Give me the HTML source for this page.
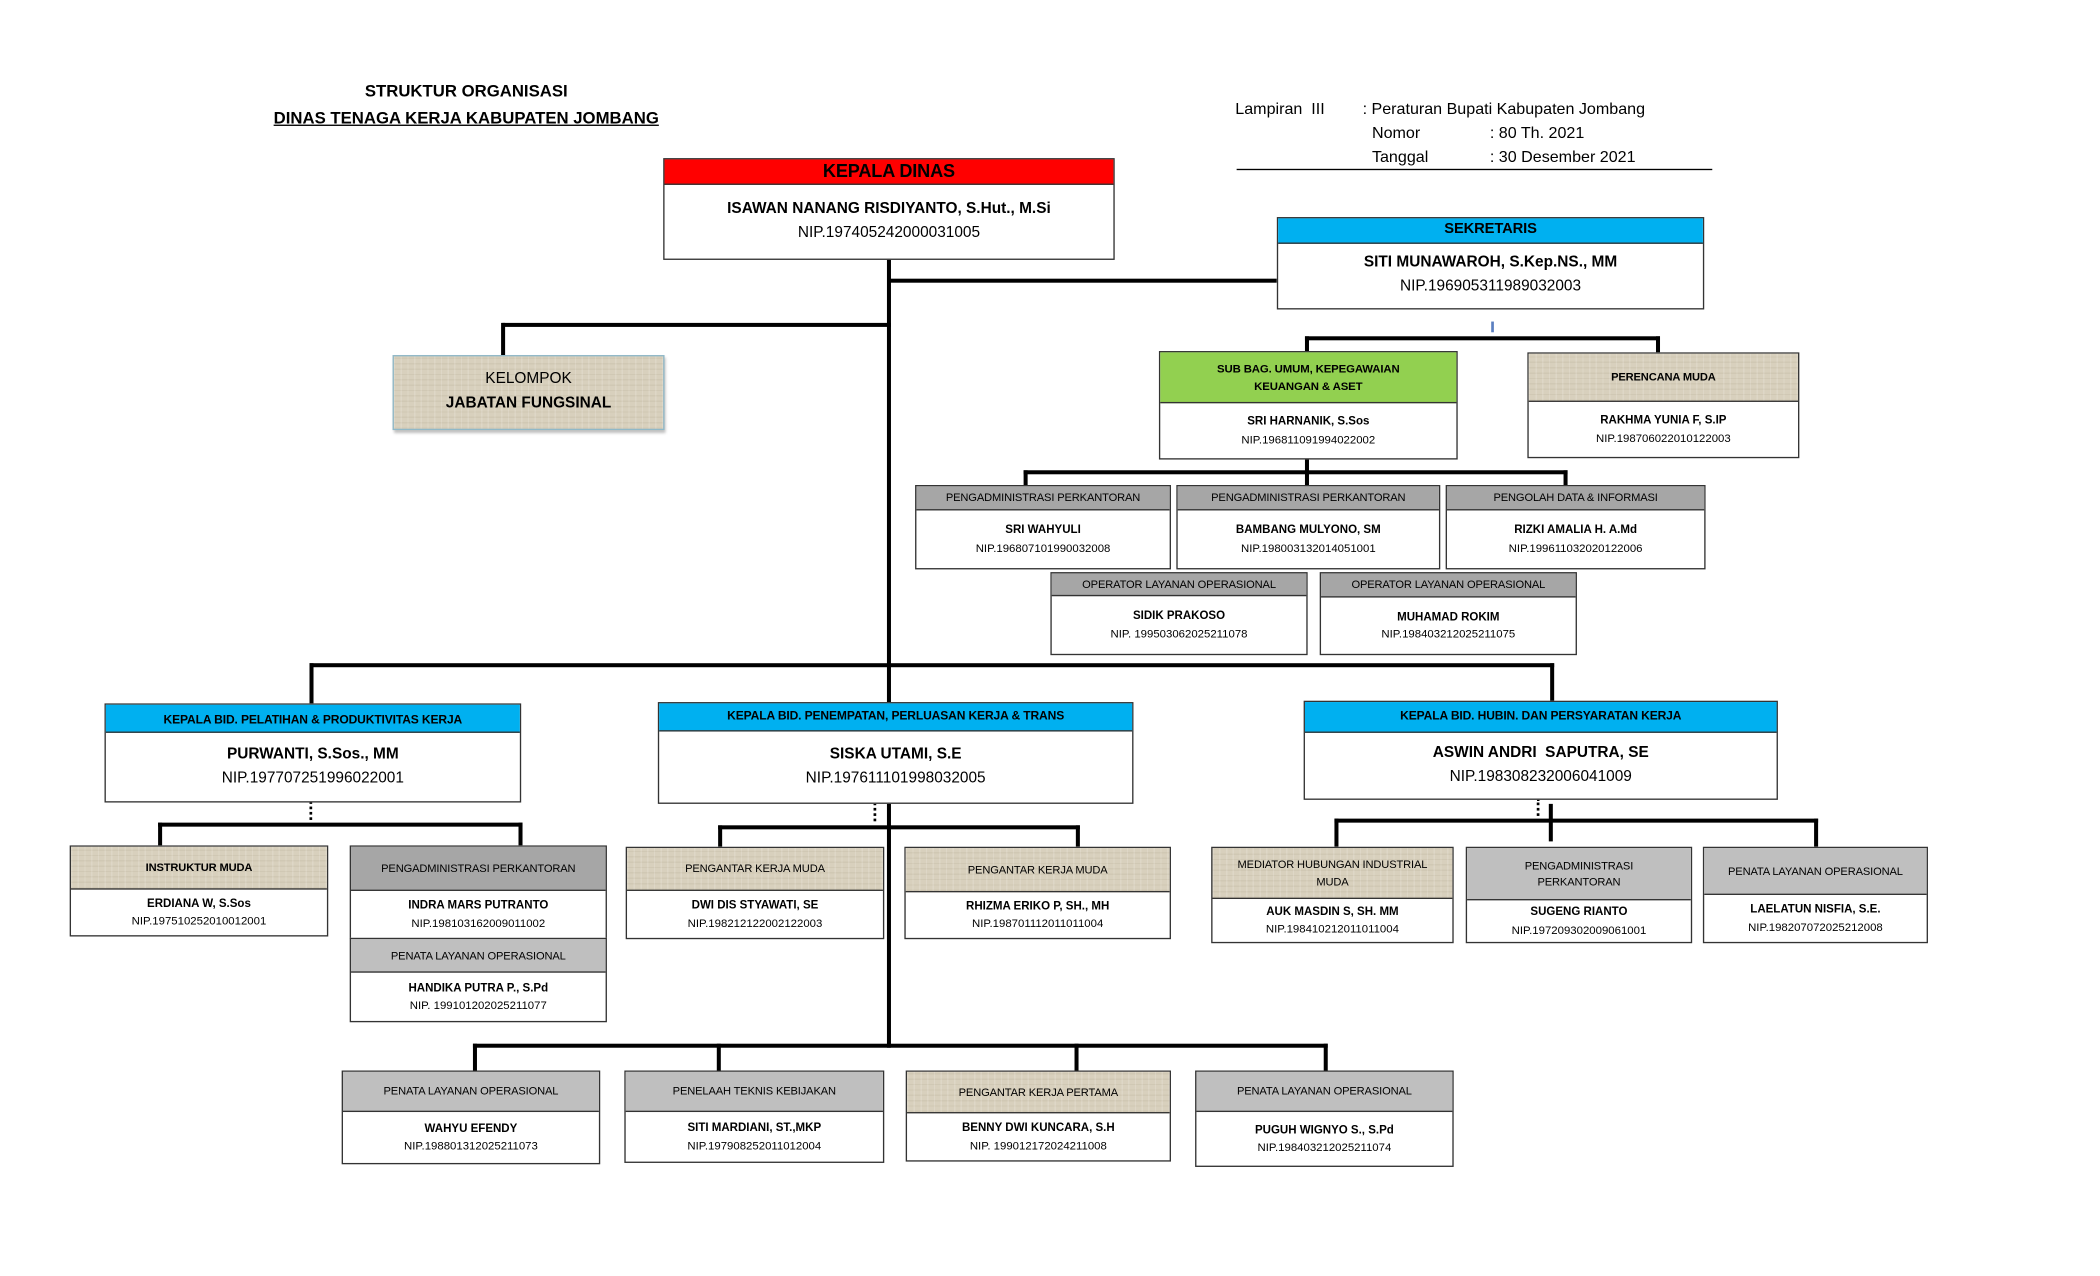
<!DOCTYPE html>
<html><head><meta charset="utf-8"><style>
html,body{margin:0;padding:0;background:#fff;}
body{width:2100px;height:1275px;overflow:hidden;position:relative;}
#s{position:absolute;left:0;top:0;width:1568px;height:952px;transform:scale(1.3398);transform-origin:0 0;font-family:"Liberation Sans",sans-serif;color:#000;}
.t{position:absolute;white-space:nowrap;}
.l{position:absolute;background:#000;}
.b{position:absolute;box-sizing:border-box;border:1px solid #333;background:#fff;display:flex;flex-direction:column;}
.h{box-sizing:border-box;border-bottom:1px solid #333;display:flex;align-items:center;justify-content:center;text-align:center;font-size:8.3px;line-height:1.45;letter-spacing:-0.1px;flex:none;}
.bd{flex:1;display:flex;flex-direction:column;align-items:center;justify-content:center;font-size:8.5px;line-height:1.55;}
.bd b{font-size:8.6px;}
.g{background:#a6a6a6;}
.g2{background:#bfbfbf;}
.be{background:#d8d0bd;background-image:repeating-linear-gradient(90deg,rgba(255,255,255,.15) 0 1px,transparent 1px 5px),repeating-linear-gradient(0deg,rgba(120,100,70,.08) 0 1px,transparent 1px 4px);}
.bl{background:#00b0f0;}
.big .bd{font-size:11.5px;line-height:1.55;}
.big .bd b{font-size:11.5px;}
.big .h{font-size:9px;}
</style></head><body><div id="s">

<div class="t" style="left:0;width:696px;top:61px;text-align:center;font-size:12.5px;font-weight:bold;">STRUKTUR ORGANISASI</div>
<div class="t" style="left:0;width:696px;top:81px;text-align:center;font-size:12.5px;font-weight:bold;text-decoration:underline;">DINAS TENAGA KERJA KABUPATEN JOMBANG</div>

<div class="t" style="left:922px;top:74px;font-size:12px;">Lampiran &nbsp;III</div>
<div class="t" style="left:1017px;top:74px;font-size:12px;">: Peraturan Bupati Kabupaten Jombang</div>
<div class="t" style="left:1024px;top:92px;font-size:12px;">Nomor</div>
<div class="t" style="left:1112px;top:92px;font-size:12px;">: 80 Th. 2021</div>
<div class="t" style="left:1024px;top:110px;font-size:12px;">Tanggal</div>
<div class="t" style="left:1112px;top:110px;font-size:12px;">: 30 Desember 2021</div>
<div class="l" style="left:923px;top:126px;width:355px;height:1px;"></div>

<!-- connectors -->
<div class="l" style="left:662px;top:193px;width:3px;height:589px;"></div>
<div class="l" style="left:663px;top:208px;width:290px;height:3px;"></div>
<div class="l" style="left:375px;top:241px;width:290px;height:3px;"></div>
<div class="l" style="left:374px;top:241px;width:3px;height:24px;"></div>
<div class="l" style="left:1113px;top:240px;width:2px;height:8px;background:#5b7fc0;"></div>
<div class="l" style="left:974px;top:251px;width:265px;height:3px;"></div>
<div class="l" style="left:974px;top:251px;width:3px;height:11px;"></div>
<div class="l" style="left:1236px;top:251px;width:3px;height:12px;"></div>
<div class="l" style="left:974px;top:342px;width:3px;height:10px;"></div>
<div class="l" style="left:764px;top:351px;width:406px;height:3px;"></div>
<div class="l" style="left:764px;top:351px;width:3px;height:11px;"></div>
<div class="l" style="left:974px;top:351px;width:3px;height:11px;"></div>
<div class="l" style="left:1167px;top:351px;width:3px;height:11px;"></div>
<div class="l" style="left:231px;top:495px;width:929px;height:3px;"></div>
<div class="l" style="left:231px;top:495px;width:3px;height:30px;"></div>
<div class="l" style="left:1157px;top:495px;width:3px;height:29px;"></div>

<div class="t" style="left:231px;top:598px;width:0;height:14px;border-left:2px dotted #000;"></div>
<div class="l" style="left:118px;top:614px;width:272px;height:3px;"></div>
<div class="l" style="left:118px;top:614px;width:3px;height:17px;"></div>
<div class="l" style="left:387px;top:614px;width:3px;height:17px;"></div>

<div class="t" style="left:652px;top:599px;width:0;height:14px;border-left:2px dotted #000;"></div>
<div class="l" style="left:536px;top:616px;width:270px;height:3px;"></div>
<div class="l" style="left:536px;top:616px;width:3px;height:16px;"></div>
<div class="l" style="left:803px;top:616px;width:3px;height:16px;"></div>

<div class="t" style="left:1147px;top:596px;width:0;height:13px;border-left:2px dotted #000;"></div>
<div class="l" style="left:996px;top:611px;width:361px;height:3px;"></div>
<div class="l" style="left:996px;top:611px;width:3px;height:21px;"></div>
<div class="l" style="left:1156px;top:600px;width:3px;height:28px;"></div>
<div class="l" style="left:1354px;top:611px;width:3px;height:21px;"></div>

<div class="l" style="left:353px;top:779px;width:638px;height:3px;"></div>
<div class="l" style="left:353px;top:779px;width:3px;height:20px;"></div>
<div class="l" style="left:535px;top:779px;width:3px;height:20px;"></div>
<div class="l" style="left:802px;top:779px;width:3px;height:20px;"></div>
<div class="l" style="left:988px;top:779px;width:3px;height:20px;"></div>

<!-- Kepala Dinas -->
<div class="b big" style="left:495px;top:118px;width:337px;height:76px;">
 <div class="h" style="height:19px;background:#ff0000;font-size:13.5px;font-weight:bold;">KEPALA DINAS</div>
 <div class="bd"><b>ISAWAN NANANG RISDIYANTO, S.Hut., M.Si</b><span>NIP.197405242000031005</span></div>
</div>

<!-- Sekretaris -->
<div class="b big" style="left:953px;top:162px;width:319px;height:69px;">
 <div class="h bl" style="height:19px;font-size:11px;font-weight:bold;">SEKRETARIS</div>
 <div class="bd"><b>SITI MUNAWAROH, S.Kep.NS., MM</b><span>NIP.196905311989032003</span></div>
</div>

<!-- Kelompok -->
<div class="b be" style="left:293px;top:265px;width:203px;height:56px;border:1px solid #8fb8c8;box-shadow:1px 2px 2px rgba(0,0,0,.25);align-items:center;justify-content:center;font-size:11.5px;line-height:1.55;text-align:center;">
 <span>KELOMPOK</span><b>JABATAN FUNGSINAL</b>
</div>

<!-- Subbag -->
<div class="b" style="left:865px;top:262px;width:223px;height:81px;">
 <div class="h" style="height:38px;background:#92d050;font-weight:bold;font-size:8.5px;line-height:1.5;">SUB BAG. UMUM, KEPEGAWAIAN<br>KEUANGAN &amp; ASET</div>
 <div class="bd"><b>SRI HARNANIK, S.Sos</b><span>NIP.196811091994022002</span></div>
</div>
<div class="b" style="left:1140px;top:263px;width:203px;height:79px;">
 <div class="h be" style="height:36px;font-weight:bold;">PERENCANA MUDA</div>
 <div class="bd"><b>RAKHMA YUNIA F, S.IP</b><span>NIP.198706022010122003</span></div>
</div>

<div class="b" style="left:683px;top:362px;width:191px;height:63px;">
 <div class="h g" style="height:18px;">PENGADMINISTRASI PERKANTORAN</div>
 <div class="bd"><b>SRI WAHYULI</b><span>NIP.196807101990032008</span></div>
</div>
<div class="b" style="left:878px;top:362px;width:197px;height:63px;">
 <div class="h g" style="height:18px;">PENGADMINISTRASI PERKANTORAN</div>
 <div class="bd"><b>BAMBANG MULYONO, SM</b><span>NIP.198003132014051001</span></div>
</div>
<div class="b" style="left:1079px;top:362px;width:194px;height:63px;">
 <div class="h g" style="height:18px;">PENGOLAH DATA &amp; INFORMASI</div>
 <div class="bd"><b>RIZKI AMALIA H. A.Md</b><span>NIP.199611032020122006</span></div>
</div>
<div class="b" style="left:784px;top:427px;width:192px;height:62px;">
 <div class="h g" style="height:17px;">OPERATOR LAYANAN OPERASIONAL</div>
 <div class="bd"><b>SIDIK PRAKOSO</b><span>NIP. 199503062025211078</span></div>
</div>
<div class="b" style="left:985px;top:427px;width:192px;height:62px;">
 <div class="h g" style="height:18px;">OPERATOR LAYANAN OPERASIONAL</div>
 <div class="bd"><b>MUHAMAD ROKIM</b><span>NIP.198403212025211075</span></div>
</div>

<!-- Bidang -->
<div class="b big" style="left:78px;top:525px;width:311px;height:74px;">
 <div class="h bl" style="height:21px;font-weight:bold;padding-top:4px;">KEPALA BID. PELATIHAN &amp; PRODUKTIVITAS KERJA</div>
 <div class="bd"><b>PURWANTI, S.Sos., MM</b><span>NIP.197707251996022001</span></div>
</div>
<div class="b big" style="left:491px;top:524px;width:355px;height:76px;">
 <div class="h bl" style="height:21px;font-weight:bold;">KEPALA BID. PENEMPATAN, PERLUASAN KERJA &amp; TRANS</div>
 <div class="bd"><b>SISKA UTAMI, S.E</b><span>NIP.197611101998032005</span></div>
</div>
<div class="b big" style="left:973px;top:523px;width:354px;height:74px;">
 <div class="h bl" style="height:23px;font-weight:bold;">KEPALA BID. HUBIN. DAN PERSYARATAN KERJA</div>
 <div class="bd"><b>ASWIN ANDRI &nbsp;SAPUTRA, SE</b><span>NIP.198308232006041009</span></div>
</div>

<!-- Bid1 children -->
<div class="b" style="left:52px;top:631px;width:193px;height:68px;">
 <div class="h be" style="height:32px;font-weight:bold;">INSTRUKTUR MUDA</div>
 <div class="bd"><b>ERDIANA W, S.Sos</b><span>NIP.197510252010012001</span></div>
</div>
<div class="b" style="left:261px;top:631px;width:192px;height:70px;">
 <div class="h g" style="height:33px;">PENGADMINISTRASI PERKANTORAN</div>
 <div class="bd"><b>INDRA MARS PUTRANTO</b><span>NIP.198103162009011002</span></div>
</div>
<div class="b" style="left:261px;top:700px;width:192px;height:63px;">
 <div class="h g2" style="height:25px;">PENATA LAYANAN OPERASIONAL</div>
 <div class="bd"><b>HANDIKA PUTRA P., S.Pd</b><span>NIP. 199101202025211077</span></div>
</div>

<!-- Bid2 children -->
<div class="b" style="left:467px;top:632px;width:193px;height:69px;">
 <div class="h be" style="height:32px;">PENGANTAR KERJA MUDA</div>
 <div class="bd"><b>DWI DIS STYAWATI, SE</b><span>NIP.198212122002122003</span></div>
</div>
<div class="b" style="left:675px;top:632px;width:199px;height:69px;">
 <div class="h be" style="height:33px;">PENGANTAR KERJA MUDA</div>
 <div class="bd"><b>RHIZMA ERIKO P, SH., MH</b><span>NIP.198701112011011004</span></div>
</div>

<!-- Bid3 children -->
<div class="b" style="left:904px;top:632px;width:181px;height:72px;">
 <div class="h be" style="height:38px;">MEDIATOR HUBUNGAN INDUSTRIAL<br>MUDA</div>
 <div class="bd"><b>AUK MASDIN S, SH. MM</b><span>NIP.198410212011011004</span></div>
</div>
<div class="b" style="left:1094px;top:632px;width:169px;height:72px;">
 <div class="h g2" style="height:39px;">PENGADMINISTRASI<br>PERKANTORAN</div>
 <div class="bd"><b>SUGENG RIANTO</b><span>NIP.197209302009061001</span></div>
</div>
<div class="b" style="left:1271px;top:632px;width:168px;height:72px;">
 <div class="h g2" style="height:35px;">PENATA LAYANAN OPERASIONAL</div>
 <div class="bd"><b>LAELATUN NISFIA, S.E.</b><span>NIP.198207072025212008</span></div>
</div>

<!-- Bottom row -->
<div class="b" style="left:255px;top:799px;width:193px;height:70px;">
 <div class="h g2" style="height:30px;">PENATA LAYANAN OPERASIONAL</div>
 <div class="bd"><b>WAHYU EFENDY</b><span>NIP.198801312025211073</span></div>
</div>
<div class="b" style="left:466px;top:799px;width:194px;height:69px;">
 <div class="h g2" style="height:30px;">PENELAAH TEKNIS KEBIJAKAN</div>
 <div class="bd"><b>SITI MARDIANI, ST.,MKP</b><span>NIP.197908252011012004</span></div>
</div>
<div class="b" style="left:676px;top:799px;width:198px;height:68px;">
 <div class="h be" style="height:31px;">PENGANTAR KERJA PERTAMA</div>
 <div class="bd"><b>BENNY DWI KUNCARA, S.H</b><span>NIP. 199012172024211008</span></div>
</div>
<div class="b" style="left:892px;top:799px;width:193px;height:72px;">
 <div class="h g2" style="height:30px;">PENATA LAYANAN OPERASIONAL</div>
 <div class="bd"><b>PUGUH WIGNYO S., S.Pd</b><span>NIP.198403212025211074</span></div>
</div>

</div></body></html>
